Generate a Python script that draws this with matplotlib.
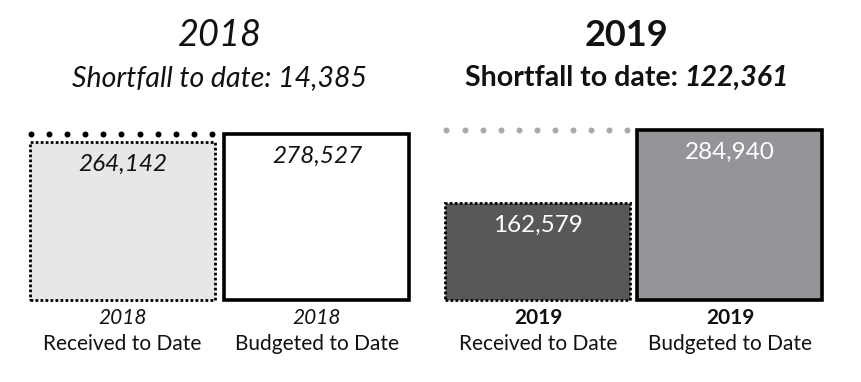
import matplotlib
matplotlib.use("Agg")
import matplotlib.pyplot as plt
import numpy as np

# ---- data ----
years = ["2018", "2019"]
categories = ["Received to Date", "Budgeted to Date"]
received = [264142, 162579]
budgeted = [278527, 284940]
shortfall = [14385, 122361]

# ---- layout (pixel units on x) ----
W, H = 862, 382
bar_w = 185
rec_x = [122.5, 538]
bud_x = [317, 730]
panel_cx = [219.5, 627]
base_px = 300          # baseline pixel row from top
u = 1675               # value units per pixel

FONT = "Lato"
fig = plt.figure(figsize=(W / 100, H / 100), dpi=100)
ax = fig.add_axes([0, 0, 1, 1])
ax.set_xlim(0, W)
ax.set_ylim(-(H - base_px) * u, base_px * u)
ax.axis("off")

rec_fill = ["#e6e7e8", "#58585a"]
bud_fill = ["#ffffff", "#939598"]
dot_col = ["#000000", "#a7a9ac"]
val_col = ["#111111", "#ffffff"]

for i in range(2):
    # received (dotted border)
    ax.bar(rec_x[i], received[i], width=bar_w, color=rec_fill[i],
           edgecolor="black", linewidth=2.0, linestyle=(0, (1, 0.8)), zorder=2)
    # budgeted (solid border)
    ax.bar(bud_x[i], budgeted[i], width=bar_w, color=bud_fill[i],
           edgecolor="black", linewidth=2.6, zorder=2)
    # dotted reference line at budget level above received bar
    xs = np.linspace(rec_x[i] - bar_w / 2 + 1, rec_x[i] + bar_w / 2 - 3, 11)
    ax.plot(xs, [budgeted[i]] * len(xs), linestyle="none", marker="o",
            markersize=4.3, color=dot_col[i], markeredgewidth=0, zorder=3)

    style = "italic" if i == 0 else "normal"
    for xv, v in ((rec_x[i], received[i]), (bud_x[i], budgeted[i])):
        ax.annotate(f"{v:,}", xy=(xv, v), xytext=(0, -16), textcoords="offset points",
                    ha="center", va="center", fontsize=17.5, color=val_col[i],
                    family=FONT, style=style, weight="normal", zorder=4)

    # bottom labels
    yweight = "normal" if i == 0 else "bold"
    for xv, cat in ((rec_x[i], categories[0]), (bud_x[i], categories[1])):
        ax.text(xv, 1 - 318 / H, years[i], transform=ax.get_xaxis_transform(),
                ha="center", va="center", fontsize=15, family=FONT,
                style=style, weight=yweight, color="#111111")
        ax.text(xv, 1 - 344 / H, cat, transform=ax.get_xaxis_transform(),
                ha="center", va="center", fontsize=15, family=FONT,
                weight="normal", color="#111111")

# titles
ax.text(panel_cx[0], 1 - 35 / H, years[0], transform=ax.get_xaxis_transform(),
        ha="center", va="center", fontsize=26, family=FONT, style="italic",
        weight="normal", color="#111111")
ax.text(panel_cx[0], 1 - 78 / H, f"Shortfall to date: {shortfall[0]:,}",
        transform=ax.get_xaxis_transform(), ha="center", va="center",
        fontsize=20.5, family=FONT, style="italic", weight="normal", color="#111111")

ax.text(panel_cx[1], 1 - 36 / H, years[1], transform=ax.get_xaxis_transform(),
        ha="center", va="center", fontsize=26, family=FONT, weight="bold",
        color="#111111")

# mixed-style subtitle for 2019
renderer = fig.canvas.get_renderer()
t1 = ax.text(0, 1 - 78 / H, "Shortfall to date: ", transform=ax.get_xaxis_transform(),
             ha="left", va="center", fontsize=20.5, family=FONT, weight="bold",
             color="#111111")
t2 = ax.text(0, 1 - 78 / H, f"{shortfall[1]:,}", transform=ax.get_xaxis_transform(),
             ha="left", va="center", fontsize=20.5, family=FONT, weight="bold",
             style="italic", color="#111111")
w1 = t1.get_window_extent(renderer).width
w2 = t2.get_window_extent(renderer).width
x0 = panel_cx[1] - (w1 + w2) / 2
t1.set_x(x0)
t2.set_x(x0 + w1)

fig.savefig("out.png", dpi=100, facecolor="white")
